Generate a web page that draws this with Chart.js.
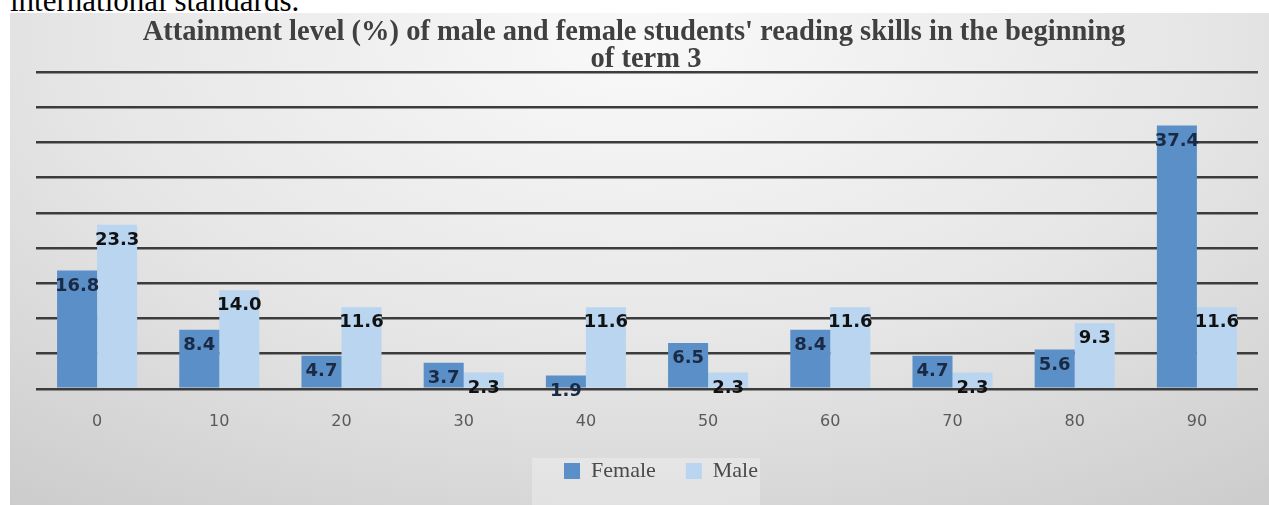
<!DOCTYPE html>
<html>
<head>
<meta charset="utf-8">
<script src="https://cdn.jsdelivr.net/npm/chart.js@4.4.1/dist/chart.umd.min.js"></script>
<style>
  body { margin: 0; background: #fff; width: 1269px; height: 505px; overflow: hidden; position: relative; }
  #texto { position: absolute; left: 10px; top: -15px; font: 31px/31px "Liberation Serif", serif; color: #000; white-space: nowrap; }
  #grafico { position: absolute; left: 10px; top: 13px; }
</style>
</head>
<body>
<div id="texto">international standards.</div>
<canvas id="grafico" width="1259" height="492"></canvas>
<script>
const categorias = ['0', '10', '20', '30', '40', '50', '60', '70', '80', '90'];
const female = [16.8, 8.4, 4.7, 3.7, 1.9, 6.5, 8.4, 4.7, 5.6, 37.4];
const male = [23.3, 14.0, 11.6, 2.3, 11.6, 2.3, 11.6, 2.3, 9.3, 11.6];
const titulo = [
  "Attainment level (%) of male and female students' reading skills in the beginning",
  'of term 3'
];

// fondo gris degradado + caja clara de la leyenda
const fondo = {
  id: 'fondo',
  beforeDraw(chart) {
    const ctx = chart.ctx;
    const w = chart.width, h = chart.height;
    ctx.save();
    ctx.translate(630, 30);
    ctx.scale(1.8, 1);
    const g = ctx.createRadialGradient(0, 0, 0, 0, 0, 620);
    g.addColorStop(0, '#f9f9f9');
    g.addColorStop(0.5, '#e6e6e6');
    g.addColorStop(1, '#c8c8c8');
    ctx.fillStyle = g;
    ctx.fillRect(-630 / 1.8, -30, w / 1.8, h);
    ctx.restore();

    const cajas = chart.legend.legendHitBoxes;
    if (cajas && cajas.length) {
      const izq = cajas[0].left - 32;
      const der = cajas[cajas.length - 1].left + cajas[cajas.length - 1].width + 2;
      ctx.save();
      ctx.fillStyle = 'rgba(255,255,255,0.28)';
      ctx.fillRect(izq, cajas[0].top - 2, der - izq, h);
      ctx.restore();
    }
  }
};

// titulo en dos lineas
const tituloPlugin = {
  id: 'tituloPlugin',
  afterDraw(chart) {
    const ctx = chart.ctx;
    ctx.save();
    ctx.fillStyle = '#404040';
    ctx.font = 'bold 28.5px "Liberation Serif", serif';
    ctx.textAlign = 'center';
    ctx.textBaseline = 'alphabetic';
    ctx.fillText(titulo[0], 624, 27);
    ctx.fillText(titulo[1], 636, 54);
    ctx.restore();
  }
};

// etiquetas de valor dentro del extremo de cada barra
const etiquetas = {
  id: 'etiquetas',
  afterDatasetsDraw(chart) {
    const ctx = chart.ctx;
    ctx.save();
    ctx.font = 'bold 18px "DejaVu Sans", sans-serif';
    ctx.textAlign = 'center';
    ctx.textBaseline = 'middle';
    chart.data.datasets.forEach((ds, i) => {
      ctx.fillStyle = i === 0 ? '#1b2a44' : '#111111';
      chart.getDatasetMeta(i).data.forEach((bar, j) => {
        ctx.fillText(ds.data[j].toFixed(1), bar.x, bar.y + 15.5);
      });
    });
    ctx.restore();
  }
};

// acomodar la leyenda (un poco a la derecha y arriba)
const moverLeyenda = {
  id: 'moverLeyenda',
  afterLayout(chart) {
    chart.legend.left += 14;
    chart.legend.right += 14;
    chart.legend.top -= 16;
    chart.legend.bottom -= 16;
  }
};

const ctx = document.getElementById('grafico').getContext('2d');
new Chart(ctx, {
  type: 'bar',
  data: {
    labels: categorias,
    datasets: [
      { label: 'Female', data: female, backgroundColor: '#5b8fc7', categoryPercentage: 0.655, barPercentage: 1.0 },
      { label: 'Male', data: male, backgroundColor: '#b9d5ef', categoryPercentage: 0.655, barPercentage: 1.0 }
    ]
  },
  options: {
    responsive: false,
    devicePixelRatio: 1,
    animation: false,
    layout: { padding: { left: 26, right: 11, top: 59, bottom: -3 } },
    scales: {
      x: {
        grid: { display: false },
        border: { display: false },
        ticks: { color: '#5a5a5a', padding: 15, font: { family: 'DejaVu Sans', size: 16 } }
      },
      y: {
        min: 0,
        max: 45,
        ticks: { display: false, stepSize: 5 },
        border: { display: false },
        grid: { color: '#3c3c3c', lineWidth: 2.5, drawTicks: false }
      }
    },
    plugins: {
      title: { display: false },
      tooltip: { enabled: false },
      legend: {
        position: 'bottom',
        labels: {
          color: '#4a4a4a',
          boxWidth: 16,
          boxHeight: 16,
          padding: 30,
          font: { family: 'Liberation Serif', size: 22 }
        }
      }
    }
  },
  plugins: [fondo, tituloPlugin, etiquetas, moverLeyenda]
});
</script>
</body>
</html>
